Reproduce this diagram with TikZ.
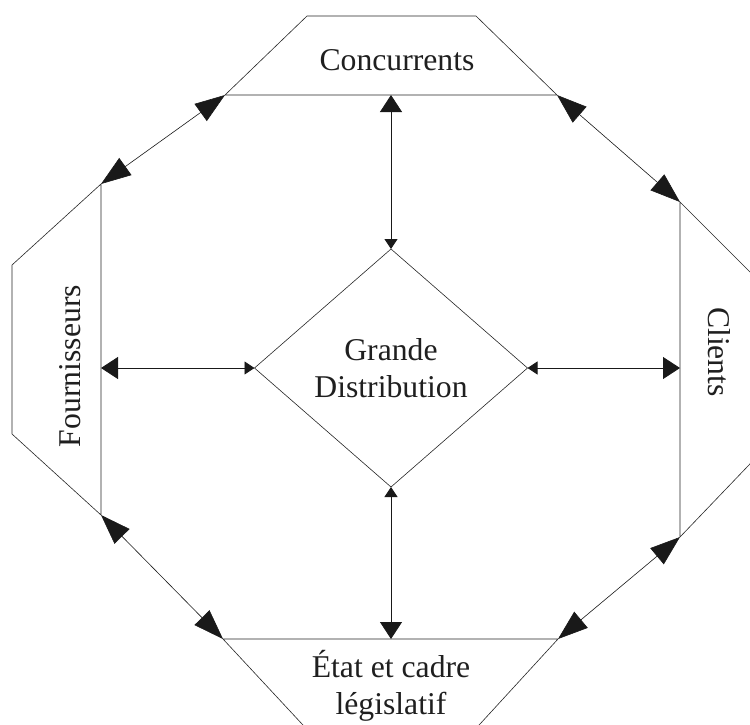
\documentclass[tikz,border=0pt]{standalone}
\usepackage{fontspec}
\setmainfont{Liberation Serif}
\usetikzlibrary{arrows.meta,shapes.geometric}
\begin{document}
\begin{tikzpicture}[x=1pt,y=-1pt,
  frame/.style={draw=black!85, line width=0.6pt},
  lbl/.style={font=\fontsize{31.7}{36.5}\selectfont, text=black!88, inner sep=0pt, outer sep=0pt},
  diag/.style={draw=black!90, line width=0.6pt, {Triangle[length=30pt,width=21pt]}-{Triangle[length=30pt,width=21pt]}},
  axis/.style={draw=black!90, line width=0.8pt, {Triangle[length=10pt,width=13pt]}-{Triangle[length=17pt,width=22pt]}}]
\useasboundingbox (0,0) rectangle (750,724);
\clip (0,0) rectangle (750,724);
% corner coordinates
\coordinate (tA) at (225,95);  \coordinate (tB) at (307,16);
\coordinate (tC) at (476,16);  \coordinate (tD) at (557,95);
\coordinate (lA) at (101,184); \coordinate (lB) at (12,265);
\coordinate (lC) at (12,434);  \coordinate (lD) at (101,515);
\coordinate (rA) at (680,202); \coordinate (rB) at (770,292);
\coordinate (rC) at (770,443); \coordinate (rD) at (680,537);
\coordinate (bA) at (223,639); \coordinate (bB) at (558,639);
\coordinate (bC) at (474.5,730); \coordinate (bD) at (307.6,730);
\coordinate (tM) at (391,95);  \coordinate (bM) at (391,639);
\coordinate (lM) at (101,368); \coordinate (rM) at (680,368);
% trapezoids
\draw[frame] (tA) -- (tB) -- (tC) -- (tD) -- cycle;
\draw[frame] (lA) -- (lB) -- (lC) -- (lD) -- cycle;
\draw[frame] (rA) -- (rB) -- (rC) -- (rD) -- cycle;
\draw[frame] (bA) -- (bB) -- (bC) -- (bD) -- cycle;
% labels
\node[lbl, anchor=base] (conc) at (397,70) {Concurrents};
\node[lbl, anchor=base, rotate=90] (four) at (80,366) {Fournisseurs};
\node[lbl, anchor=base, rotate=-90] (cli) at (708,352) {Clients};
\node[lbl, align=center] (etat) at (391,686) {État et cadre\\législatif};
% centre
\node[frame, diamond, minimum width=273pt, minimum height=238pt, inner sep=0pt, outer sep=0pt,
      font=\fontsize{31.7}{36.5}\selectfont, text=black!88, align=center] (gd) at (391,368) {Grande\\Distribution};
% connectors
\draw[axis] (gd.north) -- (tM);
\draw[axis] (gd.south) -- (bM);
\draw[axis] (gd.west) -- (lM);
\draw[axis] (gd.east) -- (rM);
\draw[diag] (tA) -- (lA);
\draw[diag] (tD) -- (rA);
\draw[diag] (lD) -- (bA);
\draw[diag] (rD) -- (bB);
\end{tikzpicture}
\end{document}
